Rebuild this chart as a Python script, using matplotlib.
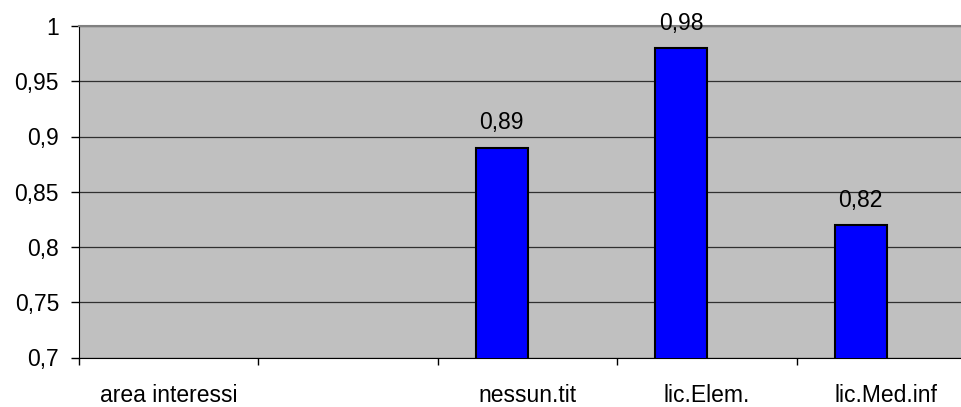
import numpy as np
import matplotlib
matplotlib.use('Agg')
import matplotlib.pyplot as plt
from matplotlib.ticker import FuncFormatter

# data
categories = ['area interessi', '', 'nessun.tit', 'lic.Elem.', 'lic.Med.inf']
values = [np.nan, np.nan, 0.89, 0.98, 0.82]
value_labels = ['', '', '0,89', '0,98', '0,82']
y_ticks = [0.7, 0.75, 0.8, 0.85, 0.9, 0.95, 1.0]

plt.rcParams['font.family'] = ['Liberation Sans', 'DejaVu Sans']
FS = 16.5

def comma(v, pos=None):
	s = f'{v:.2f}'.rstrip('0').rstrip('.')
	return s.replace('.', ',')

def main():
	fig = plt.figure(figsize=(9.62, 4.07), dpi=100)
	# plot area runs past the right edge like in the original screenshot
	ax = fig.add_axes([78.5 / 962, 1 - 357.5 / 407, 897.5 / 962, 331.5 / 407])
	ax.set_facecolor('#c0c0c0')

	x = np.arange(len(categories))
	offset = -0.143
	width = 0.29
	ax.bar(x + offset, values, width=width, bottom=0,
		color='#0000ff', edgecolor='black', linewidth=1.5, zorder=3)

	for xi, v, lab in zip(x, values, value_labels):
		if lab:
			ax.annotate(lab, (xi + offset, v), xytext=(0, 13), textcoords='offset points',
				ha='center', va='baseline', fontsize=FS, annotation_clip=False)

	ax.set_xlim(-0.5, len(categories) - 0.5)
	ax.set_ylim(0.7, 1.0)
	ax.set_yticks(y_ticks)
	ax.yaxis.set_major_formatter(FuncFormatter(comma))
	ax.yaxis.grid(True, color='#303030', linewidth=0.9, zorder=1)
	ax.set_axisbelow(True)

	# ticks at category boundaries, labels at centers
	ax.set_xticks(np.arange(len(categories) + 1) - 0.5)
	ax.set_xticklabels([])
	ax.set_xticks(x, minor=True)
	ax.set_xticklabels(categories, minor=True)
	ax.tick_params(axis='x', which='minor', length=0, pad=19, labelsize=FS)
	ax.tick_params(axis='x', which='major', length=5, width=1, direction='out')
	ax.tick_params(axis='y', length=6, width=1, direction='out', pad=8, labelsize=FS)

	ax.spines['left'].set_color('black')
	ax.spines['bottom'].set_color('black')
	ax.spines['top'].set_color('#808080')
	ax.spines['top'].set_linewidth(1.5)
	ax.spines['right'].set_visible(False)

	fig.savefig('out.png', dpi=100)

if __name__ == '__main__':
	main()
